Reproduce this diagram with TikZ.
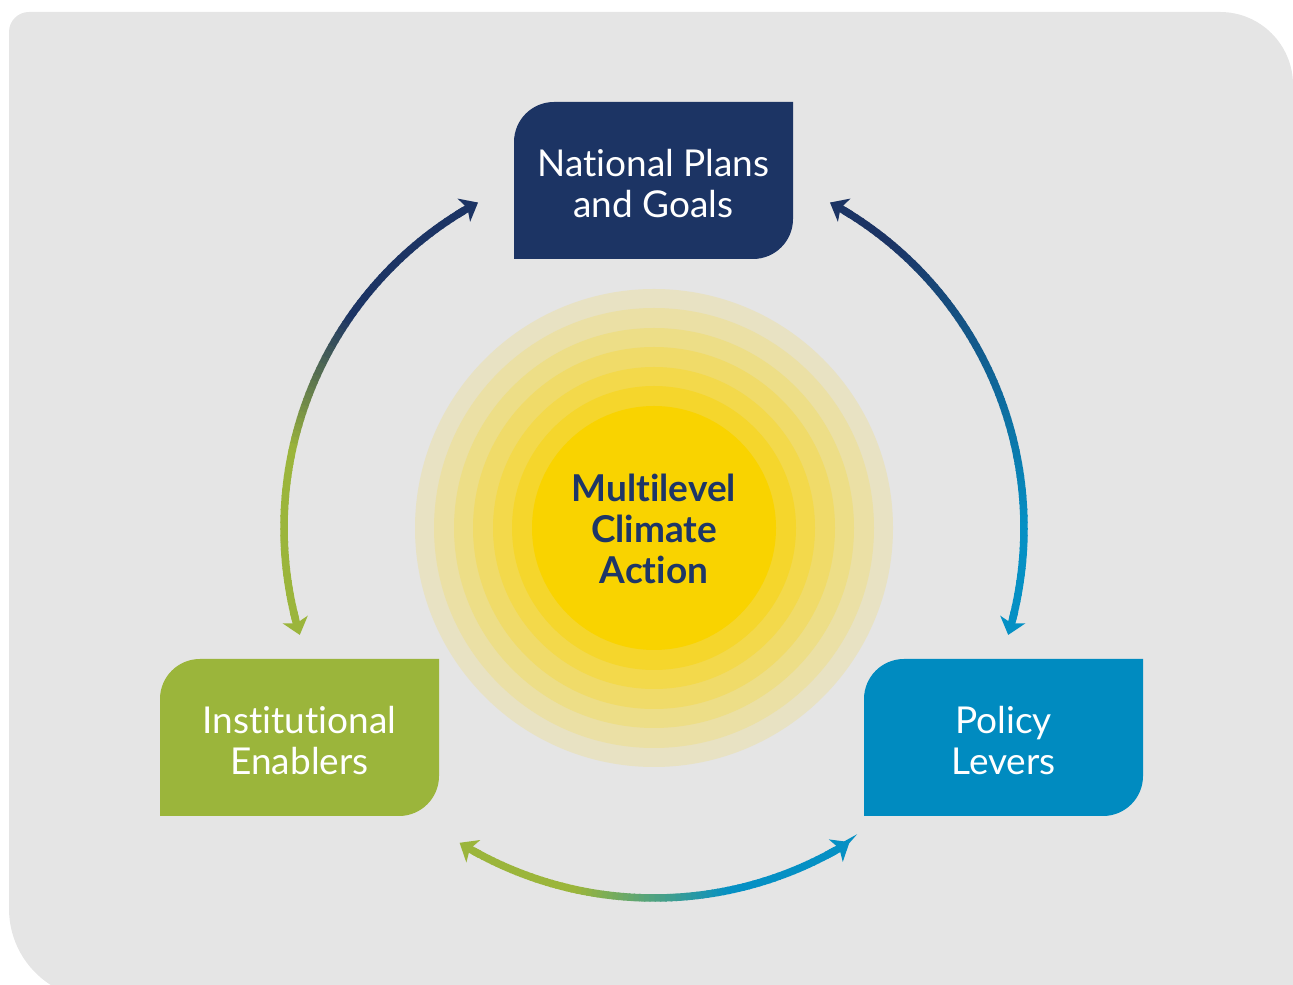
\documentclass[tikz,border=0pt]{standalone}
\usepackage{fontspec}
\setmainfont{Lato}[Ligatures={NoCommon,NoRare}]
\usetikzlibrary{arrows.meta,calc}

\definecolor{bggray}{HTML}{E5E5E5}
\definecolor{plannavy}{HTML}{1C3464}
\definecolor{textnavy}{HTML}{1E3667}
\definecolor{leafgreen}{HTML}{9BB53B}
\definecolor{leverblue}{HTML}{008BC0}
\definecolor{arcblue}{HTML}{0590C4}
\definecolor{sunyellow}{HTML}{F9D300}

% ring arc of radius 370 around (c), shaded from #3 to #4 between fractions #5 and #6
\newcommand\gradarc[6]{%
  \foreach \i in {0,...,71}{%
    \pgfmathsetmacro\aa{#1+(#2-#1)*\i/72}%
    \pgfmathsetmacro\ab{#1+(#2-#1)*min(\i+1.25,72)/72}%
    \pgfmathsetmacro\pp{100*min(1,max(0,((\i+0.5)/72-#5)/(#6-#5)))}%
    \draw[arcline, draw=#4!\pp!#3] ($(c)+(\aa:370pt)$) arc[start angle=\aa, end angle=\ab, radius=370pt];
  }}
% arrow head at angle #2, with its short stem starting at angle #1
\newcommand\arcend[3]{%
  \draw[arcline, draw=#3, -{Stealth[length=16pt,width=26pt,inset=4pt]}]
    ($(c)+(#1:370pt)$) arc[start angle=#1, end angle=#2, radius=370pt];}

\tikzset{
  arcline/.style={line width=7.5pt, line cap=butt},
  boxtext/.style={text=white, align=center, font=\fontsize{37}{41}\selectfont, yshift=-3pt},
  leafbox/.style={minimum width=279pt, minimum height=157pt, inner sep=0pt,
    path picture={\fill[#1] (path picture bounding box.south west) -- ++(0,117pt)
      arc[start angle=180, end angle=90, radius=40pt]
      -- (path picture bounding box.north east) -- ++(0,-117pt)
      arc[start angle=0, end angle=-90, radius=40pt] -- cycle;}},
}

\begin{document}
\begin{tikzpicture}[x=1pt, y=1pt]
\useasboundingbox (0,0) rectangle (1293,985);

% panel
\fill[bggray] (1293,0) -- (50.8,0) arc[start angle=237.6, end angle=180, radius=90pt]
  -- (9,953) arc[start angle=180, end angle=90, radius=20pt]
  -- (1220,973) arc[start angle=90, end angle=0, radius=73pt] -- cycle;

\coordinate (c) at (654,457);

% glowing core
\foreach \r/\p in {239/15,220/28,200/41,181/54,161/67,142/81,122/100}
  \fill[sunyellow!\p!bggray] (c) circle[radius=\r pt];

\node[font=\bfseries\fontsize{37}{41}\selectfont, text=textnavy, align=center]
  (mca) at (654,456) {Multilevel\\Climate\\Action};

% cycle arcs
\gradarc{120.9}{194.3}{plannavy}{leafgreen}{0.33}{0.64}
\arcend{122}{118.4}{plannavy}
\arcend{193}{196.8}{leafgreen}

\gradarc{59.1}{-14.3}{plannavy}{arcblue}{0.12}{0.80}
\arcend{58}{61.6}{plannavy}
\arcend{-13}{-16.8}{arcblue}

\gradarc{240.8}{299.4}{leafgreen}{arcblue}{0.29}{0.70}
\arcend{242}{238.3}{leafgreen}
\arcend{298}{301.9}{arcblue}

% boxes
\node[leafbox=plannavy, label={[boxtext, name=plans-text]center:National Plans\\and Goals}] (plans) at (653.5,804.5) {};
\node[leafbox=leafgreen, label={[boxtext, name=inst-text]center:Institutional\\Enablers}] (inst) at (299.5,247.5) {};
\node[leafbox=leverblue, label={[boxtext, name=policy-text]center:Policy\\Levers}] (policy) at (1003.5,247.5) {};
\end{tikzpicture}
\end{document}
